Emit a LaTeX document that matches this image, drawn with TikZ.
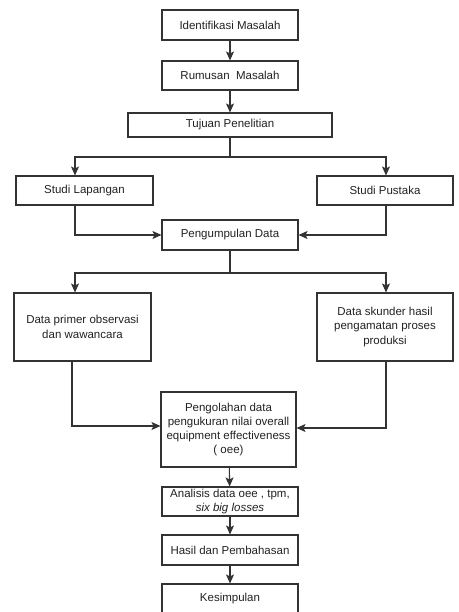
\documentclass[tikz,border=0pt]{standalone}
\usepackage{fontspec}
\setmainfont{Liberation Sans}
\usetikzlibrary{arrows.meta}
\definecolor{ln}{HTML}{333333}
\definecolor{tx}{HTML}{222222}
\tikzset{
  box/.style={draw=ln, line width=1.1pt, fill=white, inner sep=0pt, align=center,
    text=tx, font=\fontsize{11.5}{14.3}\selectfont},
  arr/.style={draw=ln, line width=1.1pt, -{Stealth[length=9pt,width=8pt,inset=2pt]}},
  ln/.style={draw=ln, line width=1.1pt}
}
\begin{document}
\begin{tikzpicture}[x=1pt,y=-1pt]
\fill[white] (0,0) rectangle (458,612);
\clip (0,0) rectangle (458,612);
\node[box, minimum width=136pt, minimum height=30pt] (id) at (230,25) {Identifikasi Masalah};
\node[box, minimum width=136pt, minimum height=29pt] (rm) at (230,75.5) {Rumusan~ Masalah};
\node[box, minimum width=204pt, minimum height=24pt] (tj) at (230,125) {Tujuan Penelitian};
\node[box, minimum width=137pt, minimum height=29pt] (sl) at (84.5,190.5) {Studi Lapangan};
\node[box, minimum width=136pt, minimum height=29pt] (sp) at (385,190.5) {Studi Pustaka};
\node[box, minimum width=136pt, minimum height=30pt] (pd) at (230,235) {Pengumpulan Data};
\node[box, minimum width=137pt, minimum height=68pt] (dp) at (82.5,327) {Data primer observasi\\dan wawancara};
\node[box, minimum width=136pt, minimum height=68pt] (ds) at (385,327) {Data skunder hasil\\pengamatan proses\\produksi};
\node[box, minimum width=135pt, minimum height=75pt] (po) at (228.5,429.5) {Pengolahan data\\pengukuran nilai overall\\equipment effectiveness\\( oee)};
\node[box, minimum width=136pt, minimum height=29pt] (an) at (230,501.5) {Analisis data oee , tpm,\\\textit{six big losses}};
\node[box, minimum width=136pt, minimum height=30pt] (hs) at (230,550) {Hasil dan Pembahasan};
\node[box, minimum width=136pt, minimum height=30pt] (ks) at (230,599) {Kesimpulan};
\coordinate (xl) at (75,0);
\coordinate (xr) at (386,0);
\coordinate (xl2) at (72,0);
\coordinate (j1) at (230,157);
\coordinate (j2) at (230,273);
\draw[arr] (id) -- (rm);
\draw[arr] (rm) -- (tj);
\draw[ln] (tj.south) -- (j1);
\draw[arr] (j1) -| (sl.north -| xl);
\draw[arr] (j1) -| (sp.north -| xr);
\draw[arr] (sl.south -| xl) |- (pd.west);
\draw[arr] (sp.south -| xr) |- (pd.east);
\draw[ln] (pd.south) -- (j2);
\draw[arr] (j2) -| (dp.north -| xl);
\draw[arr] (j2) -| (ds.north -| xr);
\draw[arr] (dp.south -| xl2) |- ([yshift=3.5pt]po.west);
\draw[arr] (ds.south -| xr) |- ([yshift=1.5pt]po.east);
\draw[arr] (po) -- (an);
\draw[arr] (an) -- (hs);
\draw[arr] (hs) -- (ks);
\end{tikzpicture}
\end{document}
